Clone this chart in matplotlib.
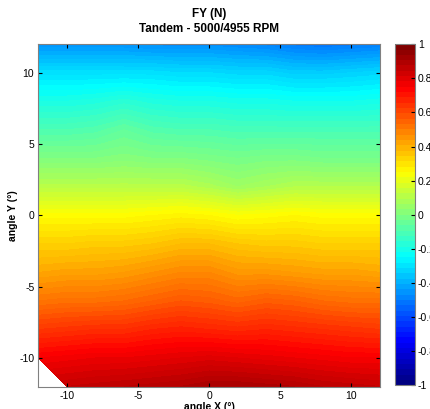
import numpy as np
import matplotlib
matplotlib.use('Agg')
import matplotlib.pyplot as plt
from matplotlib import cm, colors

plt.rcParams['font.family'] = ['Liberation Sans', 'DejaVu Sans']
plt.rcParams['axes.unicode_minus'] = False

# measurement grid (deg)
angle_x = np.arange(-12, 13, 2)
angle_y = np.arange(-12, 13, 2)

# FY (N), rows from angle_y=-12 (bottom) to 12 (top), columns angle_x -12..12
fy = np.array([
    [np.nan, 0.86, 0.87, 0.88, 0.89, 0.90, 0.92, 0.92, 0.91, 0.90, 0.88, 0.87, 0.86],
    [0.76, 0.77, 0.78, 0.78, 0.79, 0.80, 0.81, 0.80, 0.79, 0.78, 0.77, 0.76, 0.76],
    [0.64, 0.65, 0.66, 0.66, 0.68, 0.69, 0.68, 0.67, 0.68, 0.67, 0.66, 0.65, 0.64],
    [0.52, 0.53, 0.53, 0.54, 0.56, 0.58, 0.57, 0.55, 0.57, 0.56, 0.54, 0.53, 0.53],
    [0.42, 0.43, 0.43, 0.44, 0.46, 0.48, 0.48, 0.45, 0.45, 0.44, 0.43, 0.43, 0.42],
    [0.34, 0.34, 0.35, 0.35, 0.36, 0.38, 0.38, 0.36, 0.35, 0.35, 0.34, 0.34, 0.34],
    [0.25, 0.25, 0.25, 0.25, 0.26, 0.27, 0.26, 0.24, 0.25, 0.26, 0.25, 0.25, 0.25],
    [0.11, 0.11, 0.11, 0.11, 0.11, 0.11, 0.09, 0.06, 0.08, 0.10, 0.10, 0.10, 0.10],
    [0.00, 0.00, 0.00, 0.01, 0.00, 0.00, -0.01, -0.02, -0.01, -0.01, -0.02, -0.02, -0.02],
    [-0.10, -0.10, -0.09, -0.06, -0.09, -0.10, -0.10, -0.11, -0.11, -0.11, -0.11, -0.11, -0.11],
    [-0.20, -0.20, -0.19, -0.17, -0.19, -0.20, -0.20, -0.21, -0.21, -0.22, -0.22, -0.22, -0.21],
    [-0.31, -0.31, -0.31, -0.31, -0.31, -0.32, -0.32, -0.33, -0.33, -0.35, -0.35, -0.34, -0.33],
    [-0.46, -0.46, -0.46, -0.46, -0.47, -0.47, -0.47, -0.48, -0.49, -0.51, -0.52, -0.51, -0.50],
])

cbar_ticks = [-1, -0.8, -0.6, -0.4, -0.2, 0, 0.2, 0.4, 0.6, 0.8, 1]
cbar_labels = ['-1', '-0.8', '-0.6', '-0.4', '-0.2', '0', '0.2', '0.4', '0.6', '0.8', '1']
ticks = [-10, -5, 0, 5, 10]

# MATLAB-style jet
mjet = colors.LinearSegmentedColormap.from_list('mjet', [
    (0.0, (0, 0, 0.5)), (0.125, (0, 0, 1)), (0.375, (0, 1, 1)),
    (0.625, (1, 1, 0)), (0.875, (1, 0, 0)), (1.0, (0.5, 0, 0))])

fig = plt.figure(figsize=(4.3, 4.09), dpi=100)
ax = fig.add_axes([0.0895, 0.055, 0.794, 0.837])
cax = fig.add_axes([0.9186, 0.058, 0.0465, 0.834])

X, Y = np.meshgrid(angle_x, angle_y)
Z = np.ma.masked_invalid(fy)
norm = colors.Normalize(vmin=-1, vmax=1)
levels = np.arange(-0.56, 0.96, 0.02)
ax.contourf(X, Y, Z, levels=levels, cmap=mjet, norm=norm, corner_mask=True)

ax.set_xlim(-12, 12)
ax.set_ylim(-12, 12)
ax.set_xticks(ticks)
ax.set_yticks(ticks)
ax.tick_params(direction='in', length=3, labelsize=7.5, top=True, right=True, pad=3)
for s in ax.spines.values():
    s.set_color('0.5')
    s.set_linewidth(0.8)

ax.set_title('FY (N)\nTandem - 5000/4955 RPM', fontsize=8.5, fontweight='bold', pad=9, linespacing=1.3)
ax.set_xlabel('angle X (°)', fontsize=7.5, fontweight='bold', labelpad=1)
ax.set_ylabel('angle Y (°)', fontsize=7.5, fontweight='bold', labelpad=1)

sm = cm.ScalarMappable(norm=norm, cmap=mjet.resampled(64))
cb = fig.colorbar(sm, cax=cax)
cb.set_ticks(cbar_ticks)
cb.set_ticklabels(cbar_labels)
cb.outline.set_edgecolor('0.5')
cb.outline.set_linewidth(0.8)
cax.tick_params(direction='in', length=3, labelsize=7.5, pad=2)

fig.savefig('out.png', dpi=100)
